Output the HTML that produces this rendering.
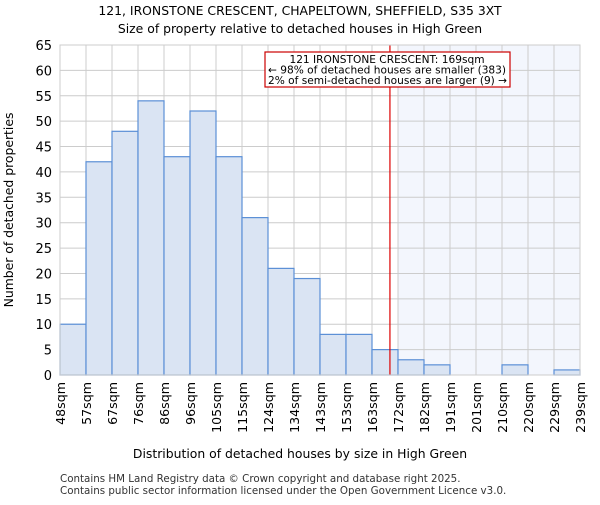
<!DOCTYPE html>
<html><head><meta charset="utf-8"><style>
body{margin:0;background:#fff;}
svg{font-family:"DejaVu Sans","Liberation Sans",sans-serif;}
</style></head><body>
<svg id="c" width="600" height="500">
<text x="300" y="15" text-anchor="middle" font-size="12.4">121, IRONSTONE CRESCENT, CHAPELTOWN, SHEFFIELD, S35 3XT</text>
<text x="300" y="33" text-anchor="middle" font-size="12.4">Size of property relative to detached houses in High Green</text>
<g id="plot"></g>
<text x="300" y="458" text-anchor="middle" font-size="12.4">Distribution of detached houses by size in High Green</text>
<text transform="translate(13,210) rotate(-90)" text-anchor="middle" font-size="12.4">Number of detached properties</text>
<text x="60" y="482" font-size="10.3" fill="#333">Contains HM Land Registry data © Crown copyright and database right 2025.</text>
<text x="60" y="494" font-size="10.3" fill="#333">Contains public sector information licensed under the Open Government Licence v3.0.</text>
</svg>
<script>
const categories=["48sqm","57sqm","67sqm","76sqm","86sqm","96sqm","105sqm","115sqm","124sqm","134sqm","143sqm","153sqm","163sqm","172sqm","182sqm","191sqm","201sqm","210sqm","220sqm","229sqm","239sqm"];
const counts=[10,42,48,54,43,52,43,31,21,19,8,8,5,3,2,0,0,2,0,1];
const yTicks=[0,5,10,15,20,25,30,35,40,45,50,55,60,65];
const markerBin=12.69;
const highlightStartBin=13;
const L=60,R=580,T=45,B=375,NS="http://www.w3.org/2000/svg";
const nb=counts.length;
const xs=i=>L+(R-L)*i/nb;
const ys=v=>B-(B-T)*v/65;
const g=document.getElementById('plot');
function mk(t,a){const e=document.createElementNS(NS,t);for(const k in a)e.setAttribute(k,a[k]);g.appendChild(e);return e;}
let e=mk('rect',{x:xs(highlightStartBin),y:T,width:R-xs(highlightStartBin),height:B-T,fill:'#f3f6fd'});


yTicks.forEach(v=>{
 let l=mk('line',{x1:L,x2:R,y1:ys(v),y2:ys(v),stroke:'#ccc'});
 
 
 let t=mk('text',{x:L-8,y:ys(v)+5,'text-anchor':'end','font-size':13});t.textContent=v;
 
 
});
categories.forEach((c,i)=>{
 let l=mk('line',{x1:xs(i),x2:xs(i),y1:T,y2:B,stroke:'#ccc'});
 
 
 let t=mk('text',{transform:`translate(${xs(i)+5},382) rotate(-90)`,'text-anchor':'end','font-size':12.6});t.textContent=c;
 
 
});
counts.forEach((v,i)=>{
 if(v<=0)return;
 let r=mk('rect',{x:xs(i),y:ys(v),width:xs(i+1)-xs(i),height:B-ys(v),fill:'#dae4f3',stroke:'#5b8fd6','stroke-width':1.2});
 
 
});
let ml=mk('line',{x1:xs(markerBin),x2:xs(markerBin),y1:T,y2:B,stroke:'#d00','stroke-width':1.2});


let bx=mk('rect',{x:265,y:52,width:245,height:35,fill:'#fff',stroke:'#c00','stroke-width':1.2});


["121 IRONSTONE CRESCENT: 169sqm","← 98% of detached houses are smaller (383)","2% of semi-detached houses are larger (9) →"].forEach((s,i)=>{
 let t=mk('text',{x:i==0?387:268,y:63+i*10.5,'text-anchor':i==0?'middle':'start','font-size':10.6});t.textContent=s;
 
 
});
let ax=mk('rect',{x:L,y:T,width:R-L,height:B-T,fill:'none',stroke:'#ccc'});


</script>
</body></html>
